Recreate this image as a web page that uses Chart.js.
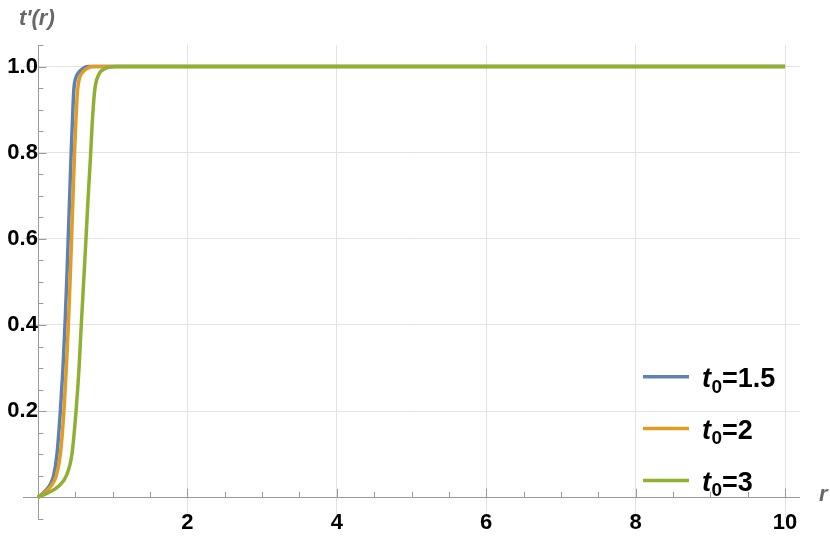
<!DOCTYPE html>
<html><head><meta charset="utf-8">
<script src="https://cdn.jsdelivr.net/npm/chart.js@4/dist/chart.umd.min.js"></script>
<style>html,body{margin:0;padding:0;background:#fff}#wrap{width:830px;height:538px;position:relative}</style>
</head><body><div id="wrap"><canvas id="c"></canvas></div>
<script>
// ---- data ----
const seriesLabels = ['1.5', '2', '3'];   // t0 values
const seriesColors = ['#5E81B5', '#E19C24', '#8FB032'];

const rA = [0, 0.07, 0.16, 0.21, 0.255, 0.30, 0.335, 0.362, 0.385, 0.405, 0.425, 0.445, 0.462, 0.48, 0.51, 0.54, 0.60, 0.67, 10];
const yA = [0, 0.010, 0.028, 0.050, 0.100, 0.200, 0.300, 0.400, 0.500, 0.600, 0.700, 0.800, 0.875, 0.945, 0.975, 0.985, 0.995, 1.0, 1.0];

const rB = [0, 0.09, 0.18, 0.245, 0.30, 0.348, 0.38, 0.407, 0.43, 0.45, 0.47, 0.49, 0.508, 0.53, 0.56, 0.59, 0.65, 0.735, 10];
const yB = [0, 0.011, 0.027, 0.050, 0.100, 0.200, 0.300, 0.400, 0.500, 0.600, 0.700, 0.800, 0.875, 0.945, 0.975, 0.985, 0.995, 1.0, 1.0];

const rC = [0, 0.156, 0.29, 0.38, 0.455, 0.51, 0.55, 0.58, 0.61, 0.64, 0.67, 0.70, 0.727, 0.76, 0.81, 0.90, 1.05, 10];
const yC = [0, 0.012, 0.028, 0.050, 0.100, 0.200, 0.300, 0.400, 0.495, 0.590, 0.690, 0.780, 0.870, 0.945, 0.980, 0.995, 1.0, 1.0];

const xTickStep = 2, yTickStep = 0.2;
const xLabel = 'r', yLabel = "t'(r)";

const FONT = '"Liberation Sans", Arial, Helvetica, sans-serif';
const AXIS_COLOR = '#9a9a9a';
const GRID_COLOR = '#e3e3e3';
const LABEL_GRAY = '#686868';

function pts(rs, ys) { return rs.map((r, i) => ({x: r, y: ys[i]})); }

const series = [pts(rA, yA), pts(rB, yB), pts(rC, yC)];

// Mathematica-style axes through the origin with inward ticks, axis labels and legend
const axesPlugin = {
  id: 'mmaAxes',
  beforeDatasetsDraw(chart) {
    const {ctx, chartArea: a, scales: {x, y}} = chart;
    const x0 = x.getPixelForValue(0), y0 = y.getPixelForValue(0);
    ctx.save();
    ctx.strokeStyle = AXIS_COLOR;
    ctx.lineWidth = 1;
    ctx.beginPath();
    ctx.moveTo(a.left, Math.round(y0) + 0.5); ctx.lineTo(a.right, Math.round(y0) + 0.5);
    ctx.moveTo(Math.round(x0) + 0.5, a.top); ctx.lineTo(Math.round(x0) + 0.5, a.bottom);
    ctx.stroke();
    const drawTicks = (scale, horiz) => {
      const vals = scale.ticks.map(t => t.value);
      const step = vals.length > 1 ? (vals[1] - vals[0]) / 4 : 0;
      if (!step) return;
      const start = vals[0] - Math.floor((vals[0] - scale.min) / step + 1e-9) * step;
      for (let v = start; v <= scale.max + 1e-9; v += step) {
        const k = Math.round((v - vals[0]) / step);
        const major = k % 4 === 0;
        const len = major ? 8.5 : 5.5;
        const p = Math.round(scale.getPixelForValue(v)) + 0.5;
        ctx.beginPath();
        if (horiz) { ctx.moveTo(p, y0); ctx.lineTo(p, y0 - len); }
        else { ctx.moveTo(x0, p); ctx.lineTo(x0 + len, p); }
        ctx.stroke();
      }
    };
    drawTicks(x, true);
    drawTicks(y, false);
    ctx.restore();
  },
  afterDraw(chart) {
    const {ctx, chartArea: a, scales: {x, y}} = chart;
    ctx.save();
    ctx.textBaseline = 'alphabetic';
    ctx.textAlign = 'left';
    // axis labels
    ctx.fillStyle = LABEL_GRAY;
    ctx.font = 'italic bold 22px ' + FONT;
    ctx.fillText(yLabel, x.getPixelForValue(0) - 19, a.top - 20);
    ctx.fillText(xLabel, a.right + 19, y.getPixelForValue(0) + 4);
    // legend
    chart.data.datasets.forEach((ds, i) => {
      const ry = a.bottom - 142 + i * 51.8;
      ctx.strokeStyle = ds.borderColor;
      ctx.lineWidth = 3.5;
      ctx.beginPath();
      ctx.moveTo(a.right - 157, ry); ctx.lineTo(a.right - 111, ry);
      ctx.stroke();
      let tx = a.right - 98;
      const base = ry + 10.3;
      ctx.fillStyle = '#000';
      ctx.font = 'italic bold 27px ' + FONT;
      ctx.fillText('t', tx, base);
      tx += ctx.measureText('t').width + 0.5;
      ctx.font = 'bold 19px ' + FONT;
      ctx.fillText('0', tx, base + 5.5);
      tx += ctx.measureText('0').width;
      ctx.font = 'bold 27px ' + FONT;
      ctx.fillText('=' + ds.label, tx, base);
    });
    ctx.restore();
  }
};

new Chart(document.getElementById('c'), {
  type: 'line',
  data: {
    datasets: series.map((d, i) => ({
      label: seriesLabels[i],
      data: d,
      borderColor: seriesColors[i],
      backgroundColor: seriesColors[i],
      borderWidth: 3.5,
      pointRadius: 0,
      fill: false,
      cubicInterpolationMode: 'monotone',
      order: 2 - i
    }))
  },
  options: {
    responsive: true,
    maintainAspectRatio: false,
    animation: false,
    events: [],
    layout: {padding: {left: 23, right: 30, top: 45, bottom: 15}},
    plugins: {
      legend: {display: false},
      tooltip: {enabled: false},
      title: {display: false}
    },
    scales: {
      x: {
        type: 'linear',
        min: -0.2, max: 10.2,
        position: {y: 0},
        border: {display: false},
        grid: {
          drawTicks: false,
          color: c => (c.tick && c.tick.value === 0) ? 'rgba(0,0,0,0)' : GRID_COLOR
        },
        ticks: {
          stepSize: xTickStep,
          includeBounds: false,
          autoSkip: false,
          maxRotation: 0,
          padding: 12,
          color: '#000',
          font: {family: FONT, size: 22, weight: 'bold'},
          callback: v => (v === 0 ? '' : String(v))
        }
      },
      y: {
        type: 'linear',
        min: -0.05, max: 1.05,
        position: {x: 0},
        border: {display: false},
        grid: {
          drawTicks: false,
          color: c => (c.tick && Math.abs(c.tick.value) < 1e-9) ? 'rgba(0,0,0,0)' : GRID_COLOR
        },
        ticks: {
          stepSize: yTickStep,
          includeBounds: false,
          autoSkip: false,
          padding: 6,
          color: '#000',
          font: {family: FONT, size: 22, weight: 'bold'},
          callback: v => (Math.abs(v) < 1e-9 ? '' : Number(v).toFixed(1))
        }
      }
    }
  },
  plugins: [axesPlugin]
});
</script>
</body></html>
